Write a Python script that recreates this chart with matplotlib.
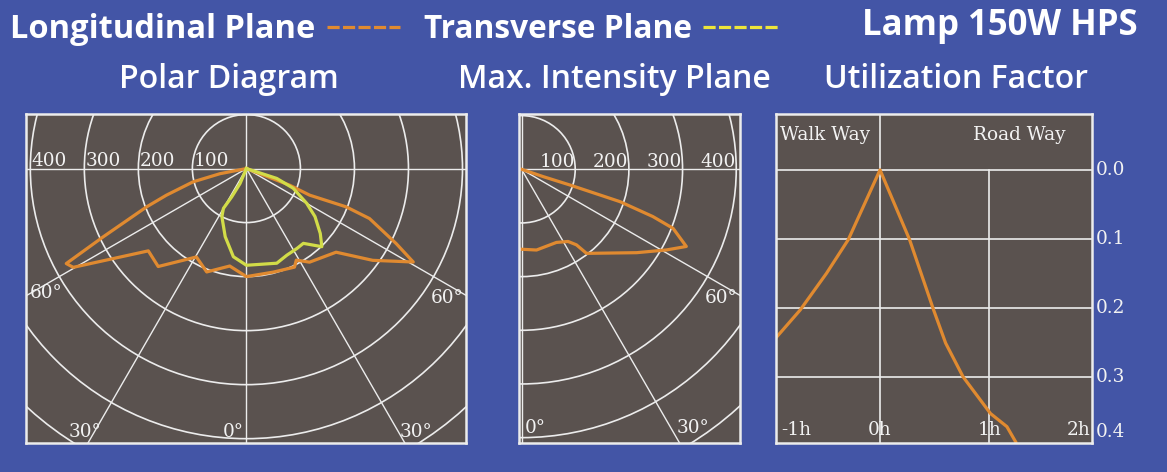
import numpy as np
import matplotlib
matplotlib.use("Agg")
import matplotlib.pyplot as plt
from matplotlib.patches import Circle
from matplotlib.lines import Line2D

# ---------------- data ----------------
# Longitudinal plane (signed angle from nadir in degrees, intensity cd/klm)
long_ang = [-90, -79, -76, -71.6, -69, -64.5, -62.2, -60.3, -50, -42, -29.5, -21,
            -9.7, 0, 14.5, 26, 28.6, 34, 47, 54, 60.75, 63.4, 67.9, 69, 67.2, 69, 90]
long_int = [0, 50, 102, 156, 198, 294, 377, 369, 237, 244, 188, 205,
            183, 200, 198, 203, 193, 209, 227, 289, 354, 310, 246, 198, 127, 86, 0]

# Transverse plane
trans_ang = [0, -23, -27.4, -30, -27, -17.3, -8.4, 0, 17.8, 25, 32.3, 37.3,
             44, 48.7, 55, 60, 67.2, 72, 90]
trans_int = [0, 30, 59, 85, 100, 132, 165, 179, 184, 177, 175, 174,
             201, 182, 155, 129, 94, 59, 0]

# Max. intensity plane
max_ang = [0, 10.5, 25.5, 32.8, 36, 37.7, 54.1, 60.9, 64.9, 68.7, 70.2, 71.8, 72, 71.3, 90]
max_int = [149, 153, 151, 160, 174, 198, 265, 309, 339, 303, 260, 193, 95, 43, 0]

# Utilization factor
uf_x = [-0.95, -0.73, -0.49, -0.29, 0.0, 0.27, 0.49, 0.60, 0.76, 1.01, 1.16, 1.24]
uf_y = [0.243, 0.203, 0.150, 0.101, 0.0, 0.101, 0.203, 0.251, 0.300, 0.353, 0.372, 0.394]

ring_values = [100, 200, 300, 400, 500, 600, 700]
ring_labels = ["100", "200", "300", "400"]
uf_ticks = [0.0, 0.1, 0.2, 0.3, 0.4]
uf_tick_labels = ["0.0", "0.1", "0.2", "0.3", "0.4"]
h_ticks = [-1, 0, 1, 2]
h_labels = ["-1h", "0h", "1h", "2h"]

# ---------------- style ----------------
BLUE = "#4355A6"
PANEL = "#5A524F"
GRID = "#ECECEC"
ORANGE = "#E08A30"
YELLOW = "#D2DC48"
SERIF = ["DejaVu Serif"]
SANS = ["Open Sans", "DejaVu Sans"]
TXT = "#F2F2F2"

W, H = 1167, 472
fig = plt.figure(figsize=(W / 100, H / 100), dpi=100, facecolor=BLUE)


def px_axes(x0, y0, x1, y1):
    return fig.add_axes([x0 / W, 1 - y1 / H, (x1 - x0) / W, (y1 - y0) / H])


def style_panel(ax):
    ax.set_facecolor(PANEL)
    ax.set_xticks([])
    ax.set_yticks([])
    for s in ax.spines.values():
        s.set_color(GRID)
        s.set_linewidth(1.8)
        s.set_zorder(10)


def to_xy(ang, inten):
    a = np.radians(np.asarray(ang, dtype=float))
    r = np.asarray(inten, dtype=float)
    return r * np.sin(a), -r * np.cos(a)


def rings_and_rays(ax, rays):
    for r in ring_values:
        ax.add_patch(Circle((0, 0), r, fill=False, ec=GRID, lw=1.2, zorder=1))
    for a in rays:
        x, y = to_xy([a, a], [0, 2000])
        ax.plot(x, y, color=GRID, lw=1.0, zorder=1)


lab_kw = dict(family=SERIF, fontsize=13.3, color=TXT, zorder=5)

# ---------------- panel 1: polar diagram ----------------
ax1 = px_axes(26, 114, 466, 443)
style_panel(ax1)
ax1.set_xlim(-408, 406.5)
ax1.set_ylim(-508, 101)
rings_and_rays(ax1, [-90, -60, -30, 0, 30, 60, 90, 180])
for r, lab in zip(ring_values, ring_labels):
    ax1.text(-r + 2, 5, lab, ha="left", va="baseline", **lab_kw)
ax1.text(-401, -231, "60°", ha="left", va="center", **lab_kw)
ax1.text(401, -240, "60°", ha="right", va="center", **lab_kw)
ax1.text(-330, -488, "30°", ha="left", va="center", **lab_kw)
ax1.text(-4, -488, "0°", ha="right", va="center", **lab_kw)
ax1.text(284, -488, "30°", ha="left", va="center", **lab_kw)
x, y = to_xy(long_ang, long_int)
ax1.plot(x, y, color=ORANGE, lw=2.3, zorder=3, solid_joinstyle="round")
x, y = to_xy(trans_ang, trans_int)
ax1.plot(x, y, color=YELLOW, lw=2.3, zorder=4, solid_joinstyle="round")

# ---------------- panel 2: max intensity plane ----------------
ax2 = px_axes(519, 114, 740, 443)
style_panel(ax2)
ax2.set_xlim(-4.7, 407)
ax2.set_ylim(-510, 103)
rings_and_rays(ax2, [0, 30, 60, 90, 180])
for r, lab in zip(ring_values, ring_labels):
    ax2.text(r - 1, 5, lab, ha="right", va="baseline", **lab_kw)
ax2.text(403, -240, "60°", ha="right", va="center", **lab_kw)
ax2.text(6.5, -482, "0°", ha="left", va="center", **lab_kw)
ax2.text(289, -482, "30°", ha="left", va="center", **lab_kw)
x, y = to_xy(max_ang, max_int)
ax2.plot(x, y, color=ORANGE, lw=2.3, zorder=3, solid_joinstyle="round")

# ---------------- panel 3: utilization factor ----------------
ax3 = px_axes(776, 114, 1092, 443)
style_panel(ax3)
ax3.set_xlim(-0.951, 1.938)
ax3.set_ylim(0.3957, -0.081)
for t in uf_ticks[:4]:
    ax3.axhline(t, color=GRID, lw=1.2, zorder=1)
ax3.axvline(0, color=GRID, lw=1.2, zorder=1)
ax3.plot([1, 1], [0, 0.5], color=GRID, lw=1.2, zorder=1)
ax3.plot(uf_x, uf_y, color=ORANGE, lw=2.3, zorder=3)
ax3.text(-0.915, -0.0507, "Walk Way", ha="left", va="center", **lab_kw)
ax3.text(1.70, -0.0507, "Road Way", ha="right", va="center", **lab_kw)
for t, lab in zip(h_ticks, h_labels):
    xx = min(max(t, -0.9), 1.92)
    ha = "left" if t == -1 else ("right" if t == 2 else "center")
    ax3.text(xx, 0.377, lab, ha=ha, va="center", **lab_kw)
for t, lab in zip(uf_ticks, uf_tick_labels):
    ax3.text(1.0105, min(t, 0.38), lab, transform=ax3.get_yaxis_transform(),
             ha="left", va="center", clip_on=False, **lab_kw)

# ---------------- header texts ----------------
hkw = dict(family=SANS, color="white", fontweight="bold")
fig.text(10 / W, 1 - 29 / H, "Longitudinal Plane", ha="left", va="center",
         fontsize=23.5, **hkw)
fig.text(424 / W, 1 - 29 / H, "Transverse Plane", ha="left", va="center",
         fontsize=22.8, **hkw)
fig.text(1138 / W, 1 - 26 / H, "Lamp 150W HPS", ha="right", va="center",
         fontsize=25, **hkw)

# legend dash samples
for (x0, x1, c) in [(327, 400, ORANGE), (703, 780, "#EDE53A")]:
    fig.add_artist(Line2D([x0 / W, x1 / W], [1 - 27 / H, 1 - 27 / H],
                          transform=fig.transFigure, color=c, lw=2.3,
                          linestyle=(0, (3.8, 1.05)), solid_capstyle="butt",
                          dash_capstyle="butt"))

skw = dict(family=SANS, color="white", fontweight="semibold", fontsize=23)
fig.text(229 / W, 1 - 79 / H, "Polar Diagram", ha="center", va="center", **skw)
fig.text(614 / W, 1 - 79 / H, "Max. Intensity Plane", ha="center", va="center", **skw)
fig.text(956 / W, 1 - 79 / H, "Utilization Factor", ha="center", va="center", **skw)

fig.savefig("out.png", dpi=100, facecolor=BLUE)
